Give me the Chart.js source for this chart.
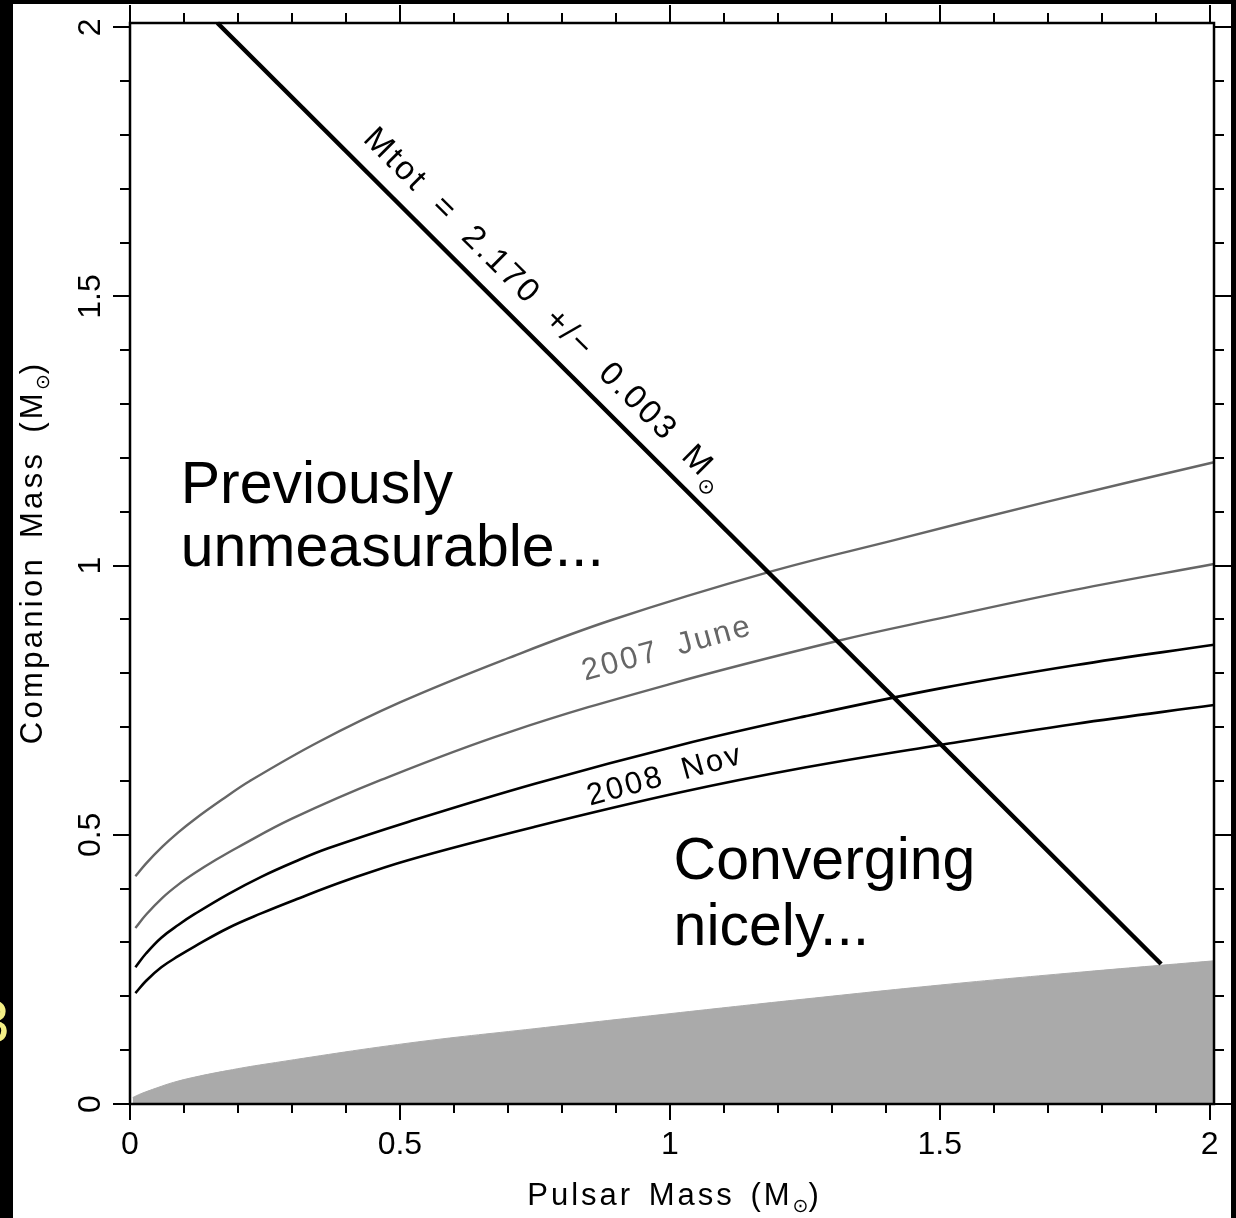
<!DOCTYPE html>
<html>
<head>
<meta charset="utf-8">
<script src="https://cdn.jsdelivr.net/npm/chart.js@4/dist/chart.umd.min.js"></script>
<style>
html,body{margin:0;padding:0;background:#000;}
#wrap{position:relative;width:1236px;height:1218px;overflow:hidden;background:#000;}
#paper{position:absolute;left:13px;top:4px;width:1218px;height:1214px;background:#fff;}
#edge{position:absolute;left:0;top:987px;width:13px;height:70px;overflow:hidden;}
#edge span{position:absolute;left:-24px;top:0;font:60px "Liberation Sans",Arial,sans-serif;line-height:70px;color:#f4ef86;}
#c{position:absolute;left:0;top:0;}
</style>
</head>
<body>
<div id="wrap">
  <div id="paper"></div>
  <div id="edge"><span>3</span></div>
  <canvas id="c" width="1236" height="1218"></canvas>
</div>
<script>
// ---------- data ----------
// Pulsar mass (x) and companion mass (y), solar masses
const june07UpperX = [0.01, 0.03, 0.06, 0.09, 0.12, 0.17, 0.222, 0.35, 0.5, 0.7, 0.895, 1.183, 1.414, 1.7, 2.008];
const june07UpperY = [0.423, 0.447, 0.478, 0.505, 0.529, 0.565, 0.600, 0.673, 0.746, 0.828, 0.900, 0.988, 1.047, 1.119, 1.192];

const june07LowerX = [0.01, 0.03, 0.06, 0.09, 0.12, 0.16, 0.2, 0.3, 0.465, 0.7, 1.0, 1.31, 1.5, 1.75, 2.008];
const june07LowerY = [0.327, 0.352, 0.383, 0.408, 0.429, 0.454, 0.477, 0.53, 0.602, 0.69, 0.78, 0.86, 0.902, 0.955, 1.003];

const nov08UpperX = [0.01, 0.03, 0.058, 0.09, 0.12, 0.182, 0.243, 0.305, 0.367, 0.515, 0.75, 1.02, 1.25, 1.501, 1.75, 2.008];
const nov08UpperY = [0.254, 0.280, 0.309, 0.333, 0.353, 0.390, 0.422, 0.450, 0.475, 0.524, 0.595, 0.667, 0.72, 0.772, 0.815, 0.853];

const nov08LowerX = [0.01, 0.03, 0.058, 0.09, 0.12, 0.182, 0.243, 0.305, 0.4, 0.515, 0.75, 1.02, 1.25, 1.501, 1.75, 2.008];
const nov08LowerY = [0.206, 0.229, 0.254, 0.275, 0.293, 0.327, 0.354, 0.379, 0.415, 0.453, 0.515, 0.579, 0.625, 0.667, 0.706, 0.741];

const massFnX = [0.005, 0.02, 0.05, 0.08, 0.12, 0.18, 0.25, 0.515, 0.75, 1.02, 1.25, 1.501, 1.75, 2.008];
const massFnY = [0.012, 0.019, 0.03, 0.04, 0.05, 0.062, 0.074, 0.113, 0.140, 0.170, 0.195, 0.221, 0.244, 0.266];

const mtotX = [0.162, 1.91];
const mtotY = [2.008, 0.26];

// axis ticks
const axisMin = 0, axisMax = 2.008;
const minorTickValues = [0,0.1,0.2,0.3,0.4,0.5,0.6,0.7,0.8,0.9,1,1.1,1.2,1.3,1.4,1.5,1.6,1.7,1.8,1.9,2];
const majorTickValues = [0, 0.5, 1, 1.5, 2];
const majorTickLabels = ['0', '0.5', '1', '1.5', '2'];

// texts
const xTitle = 'Pulsar Mass (M';
const yTitle = 'Companion Mass (M';
const sunSym = '\u2299';
const mtotLabel = 'Mtot = 2.170 +/\u2212 0.003 M';
const juneLabel = '2007 June';
const novLabel = '2008 Nov';
const note1 = ['Previously', 'unmeasurable...'];
const note2 = ['Converging', 'nicely...'];

// ---------- helpers ----------
const pts = (xs, ys) => xs.map((x, i) => ({x: x, y: ys[i]}));
const isMajor = v => majorTickValues.some(m => Math.abs(m - v) < 1e-6);
const labelFor = v => {
  const i = majorTickValues.findIndex(m => Math.abs(m - v) < 1e-6);
  return i >= 0 ? majorTickLabels[i] : '';
};
const PG = '"Liberation Sans", Arial, sans-serif';
const SYM = '"DejaVu Sans", sans-serif';

function drawParts(ctx, parts, x, y, angle, align, color) {
  ctx.save();
  ctx.translate(x, y);
  ctx.rotate(angle);
  ctx.fillStyle = color;
  ctx.textBaseline = 'alphabetic';
  ctx.textAlign = 'left';
  const widths = parts.map(p => {
    ctx.font = p.font;
    ctx.letterSpacing = p.ls || '0px';
    ctx.wordSpacing = p.ws || '0px';
    return ctx.measureText(p.t).width;
  });
  const total = widths.reduce((a, b) => a + b, 0);
  let cx = align === 'center' ? -total / 2 : 0;
  parts.forEach((p, i) => {
    ctx.font = p.font;
    ctx.letterSpacing = p.ls || '0px';
    ctx.wordSpacing = p.ws || '0px';
    ctx.fillText(p.t, cx, p.dy || 0);
    cx += widths[i];
  });
  ctx.restore();
}

function noPad(s) { s.paddingTop = 0; s.paddingBottom = 0; s.paddingLeft = 0; s.paddingRight = 0; }

// ---------- plugins ----------
const frameAndTicks = {
  id: 'frameAndTicks',
  afterDatasetsDraw(chart) {
    const ctx = chart.ctx, a = chart.chartArea;
    const xs = chart.scales.x, ys = chart.scales.y;
    ctx.save();
    ctx.strokeStyle = '#000';
    ctx.lineWidth = 2.5;
    ctx.strokeRect(a.left, a.top, a.right - a.left, a.bottom - a.top);
    ctx.lineWidth = 2;
    ctx.beginPath();
    xs.ticks.forEach(t => {
      const px = Math.round(xs.getPixelForValue(t.value));
      const mj = isMajor(t.value);
      ctx.moveTo(px, a.bottom); ctx.lineTo(px, a.bottom + (mj ? 16 : 9));
      ctx.moveTo(px, a.top); ctx.lineTo(px, a.top - (mj ? 18 : 10));
    });
    ys.ticks.forEach(t => {
      const py = Math.round(ys.getPixelForValue(t.value));
      const mj = isMajor(t.value);
      ctx.moveTo(a.left, py); ctx.lineTo(a.left - (mj ? 17 : 10), py);
      ctx.moveTo(a.right, py); ctx.lineTo(a.right + (mj ? 17 : 10), py);
    });
    ctx.stroke();
    ctx.restore();
  }
};

const annotations = {
  id: 'annotations',
  afterDraw(chart) {
    const ctx = chart.ctx, a = chart.chartArea;
    const xs = chart.scales.x, ys = chart.scales.y;
    const P = (x, y) => [xs.getPixelForValue(x), ys.getPixelForValue(y)];
    const axisFont = '31px ' + PG, symFont = '19px ' + SYM;

    // axis titles
    drawParts(ctx, [
      {t: xTitle, font: axisFont, ls: '3px', ws: '4px'},
      {t: sunSym, font: symFont, dy: 7},
      {t: ')', font: axisFont}
    ], 673, 1205, 0, 'center', '#000');
    drawParts(ctx, [
      {t: yTitle, font: axisFont, ls: '3.3px', ws: '6px'},
      {t: sunSym, font: symFont, dy: 7},
      {t: ')', font: axisFont}
    ], 42, 554, -Math.PI / 2, 'center', '#000');

    // Mtot label along the line
    const [x1, y1] = P(mtotX[0], mtotY[0]);
    const [x2, y2] = P(mtotX[1], mtotY[1]);
    const ang = Math.atan2(y2 - y1, x2 - x1);
    const len = Math.hypot(x2 - x1, y2 - y1);
    const dx = (x2 - x1) / len, dy = (y2 - y1) / len;
    const [ax, ay] = P(0.405, 1.765);
    drawParts(ctx, [
      {t: mtotLabel, font: '33px ' + PG, ls: '2.7px', ws: '9px'},
      {t: sunSym, font: '21px ' + SYM, dy: 9}
    ], ax + dy * 19, ay - dx * 19, ang, 'left', '#000');

    // curve labels
    const lblAng = -15.5 * Math.PI / 180;
    const [jx, jy] = P(0.843, 0.786);
    drawParts(ctx, [{t: juneLabel, font: '31px ' + PG, ls: '2.5px', ws: '8px'}], jx, jy, lblAng, 'left', '#666');
    const [nx, ny] = P(0.852, 0.554);
    drawParts(ctx, [{t: novLabel, font: '31px ' + PG, ls: '2.5px', ws: '8px'}], nx, ny, lblAng, 'left', '#000');

    // slide notes
    const big = '59px ' + PG;
    let [px, py] = P(0.094, 1.1165);
    drawParts(ctx, [{t: note1[0], font: big}], px, py, 0, 'left', '#000');
    [px, py] = P(0.094, 0.9994);
    drawParts(ctx, [{t: note1[1], font: big}], px, py, 0, 'left', '#000');
    [px, py] = P(1.007, 0.418);
    drawParts(ctx, [{t: note2[0], font: big}], px, py, 0, 'left', '#000');
    [px, py] = P(1.007, 0.295);
    drawParts(ctx, [{t: note2[1], font: big}], px, py, 0, 'left', '#000');
  }
};

// ---------- chart ----------
const lineDs = (label, xs, ys, color, width, extra) => Object.assign({
  label: label, data: pts(xs, ys), showLine: true, borderColor: color, borderWidth: width,
  pointRadius: 0, fill: false, tension: 0.4, clip: false
}, extra || {});

new Chart(document.getElementById('c'), {
  type: 'scatter',
  data: {
    datasets: [
      lineDs('Mtot', mtotX, mtotY, '#000', 4.5, {tension: 0}),
      lineDs('2008 Nov upper', nov08UpperX, nov08UpperY, '#000', 2.6),
      lineDs('2008 Nov lower', nov08LowerX, nov08LowerY, '#000', 2.6),
      lineDs('2007 June upper', june07UpperX, june07UpperY, '#666', 2.4),
      lineDs('2007 June lower', june07LowerX, june07LowerY, '#666', 2.4),
      lineDs('mass function', massFnX, massFnY, '#aaaaaa', 1, {fill: 'origin', backgroundColor: '#aaaaaa'})
    ]
  },
  options: {
    responsive: false,
    animation: false,
    layout: {padding: {top: 23, right: 22, left: 0, bottom: 0}},
    plugins: {legend: {display: false}, tooltip: {enabled: false}},
    scales: {
      x: {
        type: 'linear', min: axisMin, max: axisMax,
        afterBuildTicks: s => { s.ticks = minorTickValues.map(v => ({value: v})); },
        afterFit: s => { s.height = 114; noPad(s); },
        grid: {display: false, drawTicks: false},
        border: {display: false},
        ticks: {autoSkip: false, maxRotation: 0, padding: 22, color: '#000',
                font: {family: PG, size: 32}, callback: v => labelFor(v)}
      },
      y: {
        type: 'linear', min: axisMin, max: axisMax,
        afterBuildTicks: s => { s.ticks = minorTickValues.map(v => ({value: v})); },
        afterFit: s => { s.width = 130; noPad(s); },
        grid: {display: false, drawTicks: false},
        border: {display: false},
        ticks: {autoSkip: false, minRotation: 90, maxRotation: 90, crossAlign: 'center',
                padding: 17, color: '#000', font: {family: PG, size: 32}, callback: v => labelFor(v)}
      }
    }
  },
  plugins: [frameAndTicks, annotations]
});
</script>
</body>
</html>
